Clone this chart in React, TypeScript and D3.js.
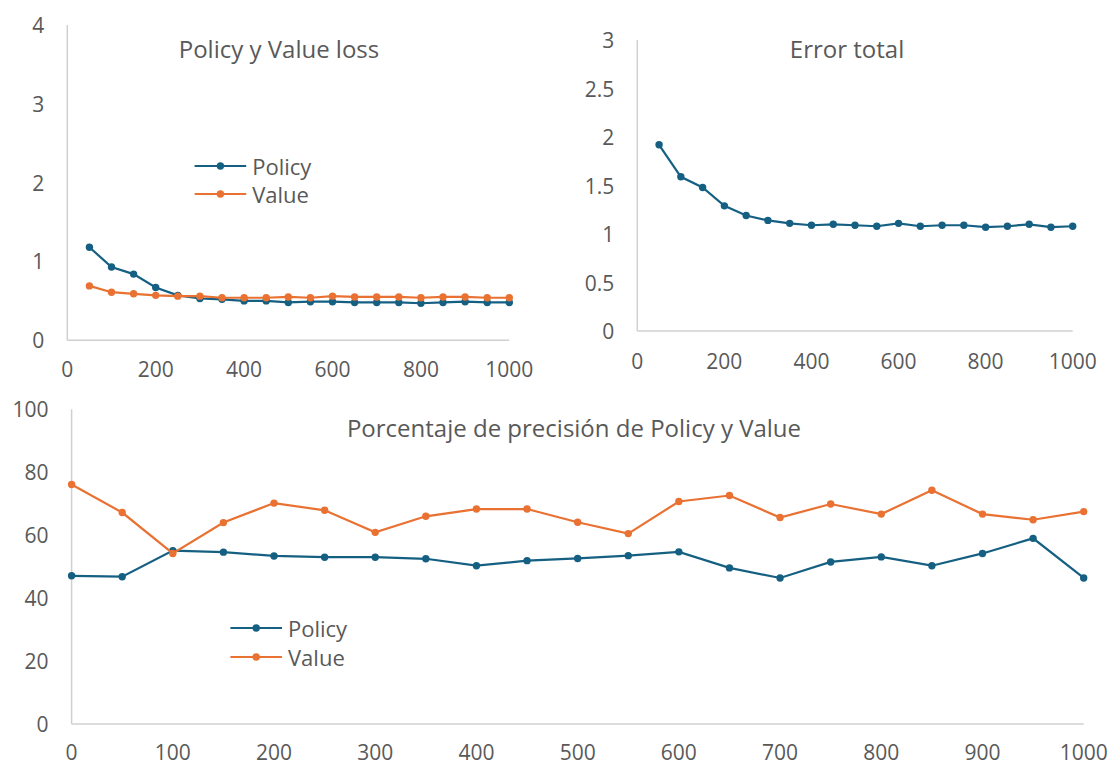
import { scaleLinear, line } from "d3";

// x positions shared by the loss charts (steps of 50)
const lossSteps = [50, 100, 150, 200, 250, 300, 350, 400, 450, 500, 550, 600, 650, 700, 750, 800, 850, 900, 950, 1000];
const policyLoss = [1.18, 0.93, 0.84, 0.67, 0.57, 0.53, 0.52, 0.5, 0.5, 0.48, 0.49, 0.49, 0.48, 0.48, 0.48, 0.47, 0.48, 0.49, 0.48, 0.48];
const valueLoss = [0.69, 0.61, 0.59, 0.57, 0.56, 0.56, 0.54, 0.54, 0.54, 0.55, 0.54, 0.56, 0.55, 0.55, 0.55, 0.54, 0.55, 0.55, 0.54, 0.54];
const totalError = [1.92, 1.59, 1.48, 1.29, 1.19, 1.14, 1.11, 1.09, 1.1, 1.09, 1.08, 1.11, 1.08, 1.09, 1.09, 1.07, 1.08, 1.1, 1.07, 1.08];

const accSteps = [0, 50, 100, 150, 200, 250, 300, 350, 400, 450, 500, 550, 600, 650, 700, 750, 800, 850, 900, 950, 1000];
const policyAcc = [47.1, 46.8, 55.1, 54.6, 53.4, 53.0, 53.0, 52.5, 50.3, 51.9, 52.6, 53.5, 54.7, 49.6, 46.4, 51.5, 53.1, 50.3, 54.2, 59.0, 46.4];
const valueAcc = [76.1, 67.2, 54.2, 64.0, 70.2, 67.9, 60.9, 66.0, 68.3, 68.3, 64.1, 60.5, 70.7, 72.6, 65.6, 69.9, 66.7, 74.3, 66.7, 64.9, 67.5];

const lossYTicks = [0, 1, 2, 3, 4];
const errorYTicks = [0, 0.5, 1, 1.5, 2, 2.5, 3];
const accYTicks = [0, 20, 40, 60, 80, 100];
const smallXTicks = [0, 200, 400, 600, 800, 1000];
const wideXTicks = [0, 100, 200, 300, 400, 500, 600, 700, 800, 900, 1000];

const BLUE = "#156082";
const ORANGE = "#E97132";
const TEXT = "#595959";
const AXIS = "#d0d0d0";
const FONT = "'Open Sans', 'Noto Sans', sans-serif";

interface Series {
	name: string;
	color: string;
	xs: number[];
	ys: number[];
}

interface ChartProps {
	title: string;
	titleX: number;
	titleY: number;
	xRange: [number, number];
	yRange: [number, number];
	yMax: number;
	xTicks: number[];
	yTicks: number[];
	xLabelGap: number;
	series: Series[];
	legend?: { x: number; y: number; gap: number; len: number };
}

function Chart({ title, titleX, titleY, xRange, yRange, yMax, xTicks, yTicks, xLabelGap, series, legend }: ChartProps) {
	const x = scaleLinear().domain([0, 1000]).range(xRange);
	const y = scaleLinear().domain([0, yMax]).range(yRange);
	const path = line<number>();

	return (
		<g fontFamily={FONT} fill={TEXT}>
			<line x1={x(0)} x2={x(0)} y1={y(0)} y2={y(yMax)} stroke={AXIS} strokeWidth={1.5} />
			<line x1={x(0)} x2={x(1000)} y1={y(0)} y2={y(0)} stroke={AXIS} strokeWidth={1.5} />
			{yTicks.map((t) => (
				<text key={"y" + t} x={x(0) - 23} y={y(t)} textAnchor="end" dominantBaseline="central" fontSize={21}>
					{t}
				</text>
			))}
			{xTicks.map((t) => (
				<text key={"x" + t} x={x(t)} y={y(0) + xLabelGap} textAnchor="middle" dominantBaseline="central" fontSize={21}>
					{t}
				</text>
			))}
			<text x={titleX} y={titleY} textAnchor="middle" dominantBaseline="central" fontSize={24}>
				{title}
			</text>
			{series.map((s) => {
				const pts = s.xs.map((v, i) => [x(v), y(s.ys[i])] as [number, number]);
				return (
					<g key={s.name}>
						<path d={path(pts) ?? ""} fill="none" stroke={s.color} strokeWidth={2.2} />
						{pts.map((p, i) => (
							<circle key={i} cx={p[0]} cy={p[1]} r={3.7} fill={s.color} />
						))}
					</g>
				);
			})}
			{legend &&
				series.map((s, i) => {
					const ly = legend.y + i * legend.gap;
					return (
						<g key={"lg" + s.name}>
							<line x1={legend.x} x2={legend.x + legend.len} y1={ly} y2={ly} stroke={s.color} strokeWidth={2.2} />
							<circle cx={legend.x + legend.len / 2} cy={ly} r={3.7} fill={s.color} />
							<text x={legend.x + legend.len + 6} y={ly} dominantBaseline="central" fontSize={22}>
								{s.name}
							</text>
						</g>
					);
				})}
		</g>
	);
}

export default function App() {
	return (
		<svg width={1112} height={763} style={{ position: "absolute", left: 0, top: 0, background: "#fff" }}>
			<Chart
				title="Policy y Value loss"
				titleX={279}
				titleY={48}
				xRange={[67.3, 509.3]}
				yRange={[340.3, 25]}
				yMax={4}
				xTicks={smallXTicks}
				yTicks={lossYTicks}
				xLabelGap={29}
				series={[
					{ name: "Policy", color: BLUE, xs: lossSteps, ys: policyLoss },
					{ name: "Value", color: ORANGE, xs: lossSteps, ys: valueLoss },
				]}
				legend={{ x: 194.6, y: 166, gap: 28, len: 51.6 }}
			/>
			<Chart
				title="Error total"
				titleX={847}
				titleY={48}
				xRange={[637.3, 1072.7]}
				yRange={[331, 40]}
				yMax={3}
				xTicks={smallXTicks}
				yTicks={errorYTicks}
				xLabelGap={30}
				series={[{ name: "Error", color: BLUE, xs: lossSteps, ys: totalError }]}
			/>
			<Chart
				title="Porcentaje de precisión de Policy y Value"
				titleX={574}
				titleY={427}
				xRange={[71.6, 1083.7]}
				yRange={[724, 409.3]}
				yMax={100}
				xTicks={wideXTicks}
				yTicks={accYTicks}
				xLabelGap={28}
				series={[
					{ name: "Policy", color: BLUE, xs: accSteps, ys: policyAcc },
					{ name: "Value", color: ORANGE, xs: accSteps, ys: valueAcc },
				]}
				legend={{ x: 230.4, y: 628, gap: 29, len: 51.6 }}
			/>
		</svg>
	);
}
